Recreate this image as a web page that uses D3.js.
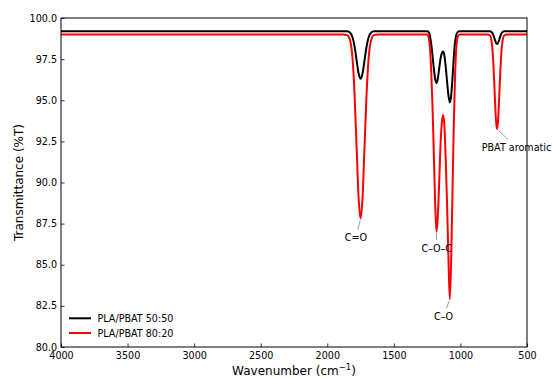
<!DOCTYPE html>
<html>
<head>
<meta charset="utf-8">
<script src="https://cdn.jsdelivr.net/npm/d3@7"></script>
<style>
  html, body { margin: 0; padding: 0; background: #fff; }
  svg { display: block; font-family: "DejaVu Sans", sans-serif; }
</style>
</head>
<body>
<svg id="chart"></svg>
<script>
// spectra (shared wavenumber grid, cm^-1)
const wavenumbers = [
  4000,
  1880, 1850, 1830, 1810, 1795, 1780, 1765, 1750, 1735, 1720, 1705, 1690, 1670, 1650, 1620,
  1250, 1240, 1230, 1220, 1210, 1200, 1190, 1180, 1170, 1160, 1150, 1140, 1130,
  1120, 1110, 1100, 1090, 1080, 1070, 1060, 1050, 1040, 1030, 1020, 1005,
  800, 780, 767, 757, 749, 741, 733, 725, 717, 709, 701, 693, 683, 670, 650,
  500
];
const blend5050 = [
  99.2,
  99.2, 99.19, 99.12, 98.81, 98.26, 97.44, 96.64, 96.3, 96.64, 97.44, 98.26, 98.81, 99.12, 99.19, 99.2,
  99.2, 99.15, 98.95, 98.45, 97.75, 96.95, 96.3, 96.04, 96.3, 96.9, 97.5, 97.85, 97.96,
  97.7, 97.0, 96.1, 95.3, 94.87, 95.25, 96.3, 97.6, 98.55, 99.0, 99.15, 99.2,
  99.2, 99.19, 99.15, 99.04, 98.88, 98.67, 98.49, 98.42, 98.49, 98.67, 98.88, 99.04, 99.15, 99.19, 99.2,
  99.2
];
const blend8020 = [
  99.0,
  99.0, 98.96, 98.68, 97.49, 95.36, 92.2, 89.12, 87.8, 89.12, 92.2, 95.36, 97.49, 98.68, 98.96, 99.0,
  99.0, 98.85, 98.3, 96.9, 94.7, 91.8, 88.8, 87.0, 87.9, 89.9, 92.2, 93.6, 94.1,
  93.4, 91.3, 88.6, 85.4, 82.9, 85.1, 89.3, 93.4, 96.6, 98.3, 98.85, 99.0,
  99.0, 98.95, 98.62, 97.82, 96.64, 95.12, 93.79, 93.25, 93.79, 95.12, 96.64, 97.82, 98.62, 98.95, 99.0,
  99.0
];
const seriesNames = ['PLA/PBAT 50:50', 'PLA/PBAT 80:20'];
const seriesColors = ['#000000', '#ff0000'];

const xTicks = [4000, 3500, 3000, 2500, 2000, 1500, 1000, 500];
const yTicks = [80, 82.5, 85, 87.5, 90, 92.5, 95, 97.5, 100];

// peak annotations: where the peak is, and where its label sits (data units)
const peakLabels = ['C=O', 'C\u2013O\u2013C', 'C\u2013O', 'PBAT aromatic'];
const peakWavenumbers = [1750, 1180, 1080, 725];
const peakValues = [87.8, 87.0, 82.9, 93.25];
const labelWavenumbers = [1785, 1178, 1127, 840];
const labelValues = [86.65, 86.0, 81.88, 92.12];
const labelAnchors = ['middle', 'middle', 'middle', 'start'];

const W = 552, H = 378;
const margin = { top: 18, right: 25, bottom: 31, left: 61 };
const smallFont = 9.6;

const svg = d3.select('#chart').attr('width', W).attr('height', H);

const x = d3.scaleLinear().domain([4000, 500]).range([margin.left, W - margin.right]);
const y = d3.scaleLinear().domain([80, 100]).range([H - margin.bottom, margin.top]);

svg.append('clipPath').attr('id', 'plot-clip')
  .append('rect')
  .attr('x', margin.left).attr('y', margin.top)
  .attr('width', x(500) - x(4000)).attr('height', y(80) - y(100));

// spectra
const line = d3.line()
  .x((d) => x(d[0]))
  .y((d) => y(d[1]))
  .curve(d3.curveMonotoneX);

const series = [blend5050, blend8020];
const plot = svg.append('g').attr('clip-path', 'url(#plot-clip)');
series.forEach((vals, i) => {
  plot.append('path')
    .datum(wavenumbers.map((w, j) => [w, vals[j]]))
    .attr('fill', 'none')
    .attr('stroke', seriesColors[i])
    .attr('stroke-width', 2)
    .attr('stroke-linejoin', 'round')
    .attr('d', line);
});

// axes (ticks pointing inward, matplotlib style)
const xAxis = svg.append('g')
  .attr('transform', `translate(0,${y(80)})`)
  .call(d3.axisBottom(x).tickValues(xTicks).tickFormat(d3.format('d')).tickSize(-3.5).tickPadding(5).tickSizeOuter(0));
const yAxis = svg.append('g')
  .attr('transform', `translate(${x(4000)},0)`)
  .call(d3.axisLeft(y).tickValues(yTicks).tickFormat(d3.format('.1f')).tickSize(-3.5).tickPadding(4).tickSizeOuter(0));

[xAxis, yAxis].forEach((g) => {
  g.select('.domain').remove();
  g.selectAll('.tick line').attr('stroke', '#000').attr('stroke-width', 0.8);
  g.selectAll('.tick text').attr('fill', '#000').attr('font-size', smallFont)
    .attr('font-family', '"DejaVu Sans", sans-serif');
});

// frame
svg.append('rect')
  .attr('x', x(4000)).attr('y', y(100))
  .attr('width', x(500) - x(4000)).attr('height', y(80) - y(100))
  .attr('fill', 'none').attr('stroke', '#000').attr('stroke-width', 1);

// axis titles
svg.append('text')
  .attr('x', (x(4000) + x(500)) / 2).attr('y', 374.5)
  .attr('text-anchor', 'middle').attr('font-size', 12).attr('fill', '#000')
  .call((t) => {
    t.append('tspan').text('Wavenumber (cm');
    t.append('tspan').attr('dy', -5).attr('font-size', 8.5).text('\u22121');
    t.append('tspan').attr('dy', 5).text(')');
  });

svg.append('text')
  .attr('transform', `translate(18.5,${(y(80) + y(100)) / 2}) rotate(-90)`)
  .attr('text-anchor', 'middle').attr('dominant-baseline', 'central')
  .attr('font-size', 12).attr('fill', '#000')
  .text('Transmittance (%T)');

// peak annotations
peakLabels.forEach((label, i) => {
  const px = x(peakWavenumbers[i]), py = y(peakValues[i]);
  const tx = x(labelWavenumbers[i]), ty = y(labelValues[i]);

  const text = svg.append('text')
    .attr('x', tx).attr('y', ty)
    .attr('text-anchor', labelAnchors[i]).attr('dominant-baseline', 'central')
    .attr('font-size', smallFont).attr('fill', '#000')
    .text(label);

  const w = text.node().getComputedTextLength();
  const cx = labelAnchors[i] === 'start' ? tx + w / 2 : tx;
  const hw = w / 2 + 2, hh = 6 + 2;

  // leader from the peak to the edge of the label box
  const dx = cx - px, dy = ty - py;
  const len = Math.hypot(dx, dy);
  const tEdge = Math.min(Math.abs(dx) > 0 ? hw / Math.abs(dx) : Infinity, hh / Math.abs(dy));
  const endFrac = 1 - tEdge;
  const startFrac = 2 / len;
  if (endFrac > startFrac) {
    svg.append('line')
      .attr('x1', px + dx * startFrac).attr('y1', py + dy * startFrac)
      .attr('x2', px + dx * endFrac).attr('y2', py + dy * endFrac)
      .attr('stroke', '#808080').attr('stroke-width', 0.8);
  }
});

// legend (no frame)
const legend = svg.append('g');
seriesNames.forEach((name, i) => {
  const ly = 318.3 + i * 14.7;
  legend.append('line')
    .attr('x1', 69).attr('x2', 91).attr('y1', ly).attr('y2', ly)
    .attr('stroke', seriesColors[i]).attr('stroke-width', 2);
  legend.append('text')
    .attr('x', 97.5).attr('y', ly)
    .attr('dominant-baseline', 'central')
    .attr('font-size', smallFont).attr('fill', '#000')
    .text(name);
});
</script>
</body>
</html>
